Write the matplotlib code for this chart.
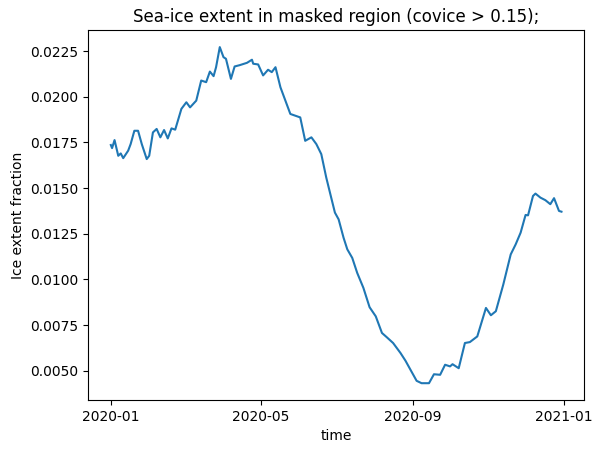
import numpy as np
import matplotlib
matplotlib.use("Agg")
import matplotlib.pyplot as plt
import matplotlib.dates as mdates
from matplotlib.ticker import MultipleLocator

start_date = "2020-01-01"
day_offset = [0, 1, 3, 6, 8, 10, 14, 16, 19, 22, 25, 29, 31, 34, 37, 40, 43, 46, 49, 52,
              57, 61, 64, 69, 73, 77, 80, 83, 85, 88, 91, 93, 97, 100, 104, 110, 114, 115,
              119, 123, 127, 130, 133, 137, 141, 145, 153, 157, 162, 166, 170, 174, 178,
              181, 184, 188, 191, 195, 199, 204, 209, 214, 219, 223, 228, 234, 238, 242,
              247, 251, 257, 261, 266, 270, 274, 276, 281, 286, 290, 296, 303, 307, 311,
              317, 323, 327, 331, 335, 337, 341, 343, 347, 351, 355, 358, 362, 364]
ice_extent = [0.01736, 0.01719, 0.01763, 0.01677, 0.01690, 0.01664, 0.01705, 0.01741,
              0.01814, 0.01814, 0.01741, 0.01659, 0.01677, 0.01805, 0.01824, 0.01778,
              0.01818, 0.01772, 0.01827, 0.01820, 0.01934, 0.01970, 0.01942, 0.01979,
              0.02089, 0.02080, 0.02138, 0.02113, 0.02162, 0.02272, 0.02217, 0.02208,
              0.02098, 0.02166, 0.02173, 0.02186, 0.02203, 0.02181, 0.02177, 0.02117,
              0.02148, 0.02135, 0.02162, 0.02052, 0.01979, 0.01906, 0.01887, 0.01759,
              0.01778, 0.01741, 0.01686, 0.01558, 0.01448, 0.01366, 0.01329, 0.01228,
              0.01165, 0.01118, 0.01036, 0.00954, 0.00848, 0.00798, 0.00707, 0.00683,
              0.00652, 0.00597, 0.00555, 0.00506, 0.00445, 0.00432, 0.00432, 0.00481,
              0.00478, 0.00533, 0.00524, 0.00536, 0.00514, 0.00652, 0.00657, 0.00688,
              0.00844, 0.00804, 0.00826, 0.00972, 0.01137, 0.01192, 0.01256, 0.01353,
              0.01351, 0.01457, 0.01470, 0.01448, 0.01434, 0.01412, 0.01445, 0.01375,
              0.01371]

dates = np.datetime64(start_date) + np.array(day_offset).astype("timedelta64[D]")

fig = plt.figure(figsize=(6.01, 4.53), dpi=100)
ax = fig.add_axes([88.3 / 601, 53 / 453, 495.7 / 601, 369.7 / 453])
ax.plot(dates, ice_extent, color="#1f77b4", linewidth=1.5)

ax.xaxis.set_major_locator(mdates.MonthLocator(bymonth=[1, 5, 9]))
ax.xaxis.set_major_formatter(mdates.DateFormatter("%Y-%m"))
ax.yaxis.set_major_locator(MultipleLocator(0.0025))

ax.set_title("Sea-ice extent in masked region (covice > 0.15);")
ax.set_xlabel("time")
ax.set_ylabel("Ice extent fraction")

fig.savefig("out.png", dpi=100)
